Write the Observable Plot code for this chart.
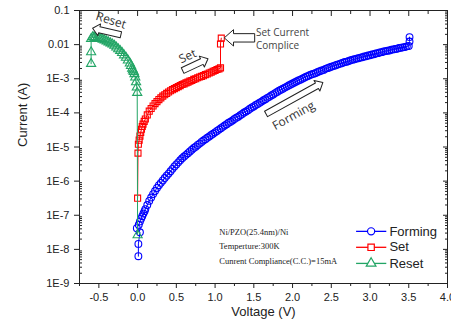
<!DOCTYPE html>
<html><head><meta charset="utf-8">
<script src="https://cdn.jsdelivr.net/npm/d3@7"></script>
<script src="https://cdn.jsdelivr.net/npm/@observablehq/plot@0.6"></script>
<style>html,body{margin:0;padding:0;background:#fff;} #chart{width:451px;height:329px;overflow:hidden}</style>
</head><body><div id="chart"></div>
<script>
// ---- data (voltage in V, current as log10 of A) ----
const seriesNames = ["Forming", "Set", "Reset"];
const seriesColors = ["#0000ff", "#ff0000", "#22a565"];
const seriesSymbols = ["circle", "square", "triangle"];

const formingV = [0.01,0.01,0.03,-0.01,0.015,0.03,0.045,0.06,0.075,0.09,0.10,0.125,0.15,0.175,0.20,0.225,0.25,0.275,0.30,0.325,0.35,0.375,0.40,0.425,0.45,0.475,0.50,0.525,0.55,0.575,0.60,0.625,0.65,0.675,0.70,0.725,0.75,0.775,0.80,0.825,0.85,0.875,0.90,0.925,0.95,0.975,1.00,1.025,1.05,1.075,1.10,1.125,1.15,1.175,1.20,1.225,1.25,1.275,1.30,1.325,1.35,1.375,1.40,1.425,1.45,1.475,1.50,1.525,1.55,1.575,1.60,1.625,1.65,1.675,1.70,1.725,1.75,1.775,1.80,1.825,1.85,1.875,1.90,1.925,1.95,1.975,2.00,2.025,2.05,2.075,2.10,2.125,2.15,2.175,2.20,2.225,2.25,2.275,2.30,2.325,2.35,2.375,2.40,2.425,2.45,2.475,2.50,2.525,2.55,2.575,2.60,2.625,2.65,2.675,2.70,2.725,2.75,2.775,2.80,2.825,2.85,2.875,2.90,2.925,2.95,2.975,3.00,3.025,3.05,3.075,3.10,3.125,3.15,3.175,3.20,3.225,3.25,3.275,3.30,3.325,3.35,3.375,3.40,3.425,3.45,3.475,3.50,3.51,3.51];
const formingLogI = [-8.20,-7.84,-7.50,-7.38,-7.28,-7.18,-7.10,-7.03,-6.95,-6.88,-6.82,-6.70,-6.58,-6.48,-6.38,-6.29,-6.20,-6.12,-6.05,-5.98,-5.91,-5.84,-5.78,-5.71,-5.64,-5.57,-5.51,-5.45,-5.39,-5.33,-5.28,-5.23,-5.18,-5.13,-5.08,-5.03,-4.99,-4.94,-4.90,-4.85,-4.81,-4.77,-4.73,-4.69,-4.65,-4.61,-4.57,-4.53,-4.49,-4.45,-4.41,-4.37,-4.33,-4.29,-4.26,-4.22,-4.18,-4.14,-4.11,-4.07,-4.03,-3.99,-3.96,-3.92,-3.88,-3.84,-3.81,-3.77,-3.74,-3.70,-3.67,-3.63,-3.60,-3.56,-3.53,-3.49,-3.46,-3.42,-3.39,-3.35,-3.32,-3.29,-3.26,-3.23,-3.20,-3.17,-3.14,-3.11,-3.08,-3.05,-3.03,-3.00,-2.97,-2.94,-2.92,-2.89,-2.87,-2.85,-2.83,-2.80,-2.78,-2.76,-2.74,-2.71,-2.69,-2.67,-2.65,-2.63,-2.61,-2.59,-2.57,-2.55,-2.53,-2.51,-2.50,-2.48,-2.46,-2.44,-2.43,-2.41,-2.40,-2.38,-2.37,-2.35,-2.34,-2.32,-2.31,-2.29,-2.28,-2.26,-2.25,-2.23,-2.22,-2.20,-2.19,-2.18,-2.17,-2.15,-2.14,-2.13,-2.12,-2.10,-2.09,-2.08,-2.07,-2.05,-2.04,-1.91,-1.78];

const setV = [0.0,0.005,0.01,0.02,0.03,0.04,0.05,0.06,0.07,0.085,0.10,0.125,0.15,0.175,0.20,0.225,0.25,0.275,0.30,0.325,0.35,0.375,0.40,0.425,0.45,0.475,0.50,0.525,0.55,0.575,0.60,0.625,0.65,0.675,0.70,0.725,0.75,0.775,0.80,0.825,0.85,0.875,0.90,0.925,0.95,0.975,1.00,1.025,1.05,1.07,1.07,1.08];
const setLogI = [-6.50,-5.18,-4.92,-4.80,-4.68,-4.57,-4.48,-4.40,-4.33,-4.25,-4.18,-4.06,-3.95,-3.87,-3.80,-3.73,-3.67,-3.61,-3.56,-3.51,-3.47,-3.43,-3.39,-3.35,-3.32,-3.29,-3.26,-3.23,-3.20,-3.17,-3.15,-3.12,-3.10,-3.07,-3.05,-3.02,-3.00,-2.97,-2.95,-2.93,-2.91,-2.88,-2.86,-2.83,-2.81,-2.78,-2.76,-2.73,-2.71,-2.68,-1.98,-1.81];

const resetV = [0.0,-0.005,-0.01,-0.02,-0.03,-0.04,-0.05,-0.06,-0.07,-0.085,-0.10,-0.125,-0.15,-0.175,-0.20,-0.225,-0.25,-0.275,-0.30,-0.325,-0.35,-0.375,-0.40,-0.425,-0.45,-0.475,-0.50,-0.525,-0.55,-0.565,-0.58,-0.60,-0.60,-0.60];
const resetLogI = [-7.58,-3.41,-3.25,-3.10,-2.96,-2.86,-2.80,-2.75,-2.70,-2.62,-2.55,-2.46,-2.38,-2.31,-2.24,-2.18,-2.13,-2.08,-2.03,-1.99,-1.96,-1.93,-1.90,-1.87,-1.85,-1.83,-1.81,-1.80,-1.79,-1.785,-1.78,-1.83,-2.22,-2.56];

const xTicks = [-0.5,0,0.5,1,1.5,2,2.5,3,3.5,4];
const xTickLabels = ["-0.5","0.0","0.5","1.0","1.5","2.0","2.5","3.0","3.5","4.0"];
const yTicks = [1e-9,1e-8,1e-7,1e-6,1e-5,1e-4,1e-3,1e-2,1e-1];
const yTickLabels = ["1E-9","1E-8","1E-7","1E-6","1E-5","1E-4","1E-3","0.01","0.1"];

const infoLines = ["Ni/PZO(25.4nm)/Ni", "Temperture:300K", "Cunrent Compliance(C.C.)=15mA"];

// ---- tables ----
const toRows = (V, L) => V.map((v, i) => ({V: v, I: Math.pow(10, L[i])}));
const series = [toRows(formingV, formingLogI), toRows(setV, setLogI), toRows(resetV, resetLogI)];

const xMinor = d3.range(-0.75, 4.01, 0.25).filter(v => !xTicks.some(t => Math.abs(t - v) < 1e-9));
const yMinor = [];
for (const t of yTicks.slice(0, -1)) for (let k = 2; k <= 9; k++) yMinor.push(t * k);

const hollowArrow = {
  draw(ctx, l, r) {
    const b = r, h = r * 1.95, hl = Math.min(l * 0.45, r * 2.2);
    ctx.moveTo(-b, 0);
    ctx.lineTo(-b, -l + hl);
    ctx.lineTo(-h, -l + hl);
    ctx.lineTo(0, -l);
    ctx.lineTo(h, -l + hl);
    ctx.lineTo(b, -l + hl);
    ctx.lineTo(b, 0);
    ctx.closePath();
  }
};

const fmtX = d => xTickLabels[xTicks.indexOf(d)];
const fmtY = d => yTickLabels[yTicks.indexOf(d)];
const blank = () => "";

const legendRows = seriesNames.map((name, i) => ({name, i, I: [3.37e-8, 1.15e-8, 3.88e-9][i]}));

const marks = [
  Plot.frame({stroke: "#222", strokeWidth: 1}),
  Plot.axisX({ticks: xTicks, tickFormat: fmtX, tickSize: 5, tickPadding: 5, label: null, fontSize: 11}),
  Plot.axisX(xMinor, {tickSize: 3, tickFormat: blank, label: null}),
  Plot.axisX({anchor: "top", ticks: xTicks, tickSize: -5, tickFormat: blank, label: null}),
  Plot.axisX(xMinor, {anchor: "top", tickSize: -3, tickFormat: blank, label: null}),
  Plot.axisY({ticks: yTicks, tickFormat: fmtY, tickSize: 5, tickPadding: 5, label: null, fontSize: 11}),
  Plot.axisY(yMinor, {tickSize: -3, tickFormat: blank, label: null}),
  Plot.axisY({anchor: "right", ticks: yTicks, tickSize: -5, tickFormat: blank, label: null}),
  Plot.axisY(yMinor, {anchor: "right", tickSize: -3, tickFormat: blank, label: null}),
  Plot.text(["Current (A)"], {frameAnchor: "left", dx: -57, rotate: -90, fontSize: 13, fill: "#222"}),
  Plot.text(["Voltage (V)"], {frameAnchor: "bottom", dy: 32, fontSize: 13, fill: "#222"})
];

series.forEach((rows, i) => {
  marks.push(Plot.line(rows, {x: "V", y: "I", stroke: seriesColors[i], strokeWidth: 1}));
  marks.push(Plot.dot(rows, {x: "V", y: "I", stroke: seriesColors[i], fill: "none", symbol: seriesSymbols[i], r: i === 2 ? 3.4 : 3.4, strokeWidth: 1.1}));
});

marks.push(
  Plot.vector([{V: 1.506, I: 0.0158, len: 30, rot: -90}], {x: "V", y: "I", length: "len", rotate: "rot", anchor: "start", shape: hollowArrow, r: 4.2, stroke: "#222", fill: "white", strokeWidth: 1}),
  Plot.vector([{V: -0.216, I: 0.0194, len: 29, rot: -77}, {V: 0.581, I: 1.74e-3, len: 28, rot: 65}, {V: 1.658, I: 9.3e-5, len: 65, rot: 61}], {x: "V", y: "I", length: "len", rotate: "rot", anchor: "start", shape: hollowArrow, r: 3.1, stroke: "#222", fill: "white", strokeWidth: 1}),
  Plot.text([{t: "Reset", V: -0.344, I: 0.0509, rot: 18}, {t: "Set", V: 0.646, I: 4.54e-3, rot: -25}, {t: "Forming", V: 2.013, I: 8.3e-5, rot: -29}], {x: "V", y: "I", text: "t", rotate: "rot", fontFamily: "Open Sans", fontSize: 12, fill: "#333"}),
  Plot.text(["Set Current\nComplice"], {x: 1.528, y: 0.0156, textAnchor: "start", lineAnchor: "middle", lineHeight: 1.3, fontFamily: "Open Sans", fontSize: 10, fill: "#444"}),
  Plot.text([infoLines.join("\n")], {x: 1.054, y: 1.37e-8, textAnchor: "start", lineAnchor: "middle", lineHeight: 1.7, fontFamily: "Liberation Serif", fontSize: 8.5, fill: "#222"})
);

legendRows.forEach(d => {
  marks.push(
    Plot.link([d], {x1: () => 2.82, x2: () => 3.21, y1: "I", y2: "I", stroke: seriesColors[d.i], strokeWidth: 1.3}),
    Plot.dot([d], {x: () => 3.014, y: "I", symbol: seriesSymbols[d.i], r: 3.6, stroke: seriesColors[d.i], fill: "white", strokeWidth: 1.2}),
    Plot.text([d], {x: () => 3.25, y: "I", text: "name", textAnchor: "start", fontSize: 13, fill: "#222"})
  );
});

const chart = Plot.plot({
  width: 451, height: 329,
  marginLeft: 79, marginRight: 4, marginTop: 10, marginBottom: 46,
  x: {domain: [-0.75, 4.0]},
  y: {type: "log", domain: [1e-9, 0.1]},
  length: {type: "identity"},
  style: {fontFamily: "'Liberation Sans', Arial, sans-serif", fontSize: "11px", color: "#222", background: "white", overflow: "visible"},
  marks
});
document.getElementById("chart").appendChild(chart);
</script></body></html>
